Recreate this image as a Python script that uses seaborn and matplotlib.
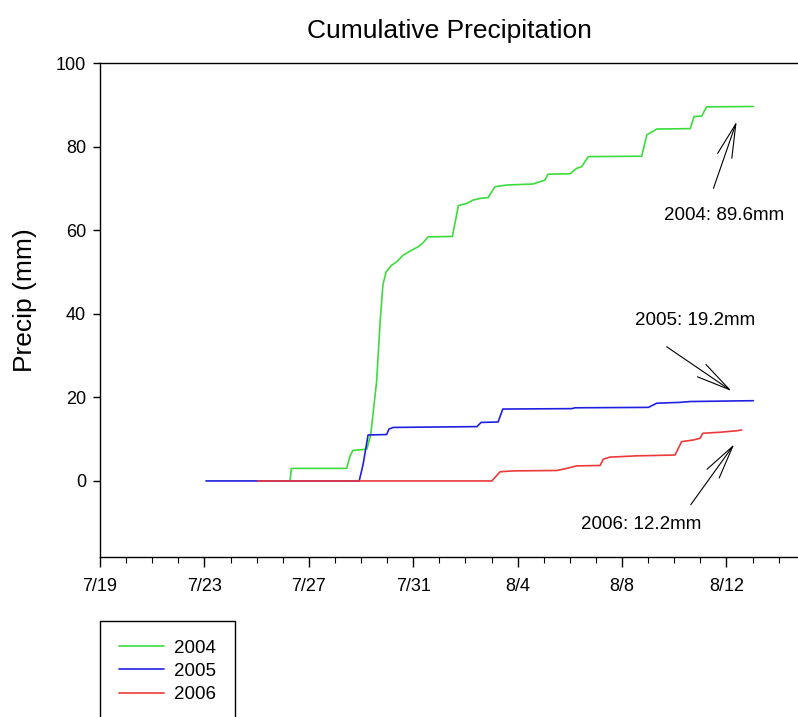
import numpy as np
import pandas as pd
import matplotlib
matplotlib.use("Agg")
import matplotlib.pyplot as plt
import matplotlib.ticker as mticker
import matplotlib.dates as mdates
import seaborn as sns
from matplotlib.lines import Line2D

# ---- data (x = days since July 19, y = cumulative precipitation in mm) ----
days_2004 = [6.9, 7.28, 7.33, 9.45, 9.58, 9.69, 10.22, 10.37, 10.60, 10.73, 10.84, 10.96,
             11.15, 11.38, 11.61, 11.88, 12.18, 12.38, 12.57, 13.50, 13.73, 14.05, 14.29,
             14.56, 14.87, 15.13, 15.58, 16.59, 17.05, 17.16, 18.01, 18.26, 18.45, 18.71,
             20.75, 20.95, 21.33, 22.61, 22.76, 23.05, 23.24, 25.03]
precip_2004 = [0, 0, 3.0, 3.0, 6.0, 7.3, 7.6, 11, 24, 38, 47, 50,
               51.5, 52.5, 54, 55, 56, 57, 58.4, 58.5, 65.9, 66.4, 67.2,
               67.6, 67.8, 70.4, 70.8, 71.05, 72, 73.4, 73.5, 74.8, 75.2, 77.6,
               77.7, 82.8, 84.2, 84.3, 87.2, 87.3, 89.5, 89.6]

days_2005 = [4.06, 9.93, 10.08, 10.27, 10.98, 11.07, 11.23, 14.44, 14.60, 15.25, 15.43,
             18.07, 18.20, 21.01, 21.33, 22.22, 22.61, 25.03]
precip_2005 = [0, 0, 4, 11, 11.1, 12.4, 12.8, 13.0, 14.0, 14.1, 17.2,
               17.3, 17.5, 17.6, 18.6, 18.8, 19.0, 19.2]

days_2006 = [6.05, 15.01, 15.33, 15.83, 17.50, 17.88, 18.26, 19.16, 19.28, 19.54, 20.56,
             22.03, 22.28, 22.73, 22.99, 23.09, 23.75, 24.39, 24.58]
precip_2006 = [0, 0, 2.2, 2.4, 2.5, 3.0, 3.6, 3.7, 5.2, 5.7, 6.0,
               6.2, 9.4, 9.8, 10.2, 11.4, 11.65, 12.0, 12.2]

years = ["2004", "2005", "2006"]
colors = ["#3cdc3c", "#2020e0", "#ec3a3a"]
totals = ["2004: 89.6mm", "2005: 19.2mm", "2006: 12.2mm"]
ytick_vals = [0, 20, 40, 60, 80, 100]

start = pd.Timestamp("2004-07-19")
frames = []
for yr, d, p in zip(years, [days_2004, days_2005, days_2006],
                    [precip_2004, precip_2005, precip_2006]):
    frames.append(pd.DataFrame({
        "date": start + pd.to_timedelta(np.array(d), unit="D"),
        "precip": p,
        "year": yr,
    }))
df = pd.concat(frames, ignore_index=True)

sns.set_theme(style="ticks")
plt.rcParams["font.family"] = ["Liberation Sans", "DejaVu Sans"]
plt.rcParams["text.color"] = "black"
plt.rcParams["axes.labelcolor"] = "black"
plt.rcParams["xtick.color"] = "black"
plt.rcParams["ytick.color"] = "black"

fig = plt.figure(figsize=(7.98, 7.17), dpi=100)
ax = fig.add_axes([100/798, 1-557/717, 698/798, (557-63)/717])

sns.lineplot(data=df, x="date", y="precip", hue="year",
             palette=dict(zip(years, colors)), estimator=None, sort=False,
             linewidth=1.2, ax=ax, legend=False)

# axes limits and ticks
ax.set_xlim(start, start + pd.Timedelta(days=26.74))
ax.set_ylim(-18.2, 100)
ax.set_yticks(ytick_vals)
ax.xaxis.set_major_locator(mdates.DayLocator(bymonthday=[19, 23, 27, 31, 4, 8, 12, 16]))
ax.xaxis.set_minor_locator(mdates.DayLocator())
ax.xaxis.set_major_formatter(mticker.FuncFormatter(
    lambda v, pos: f"{mdates.num2date(v).month}/{mdates.num2date(v).day}"))

for s in ["left", "top", "bottom"]:
    ax.spines[s].set_visible(True)
    ax.spines[s].set_color("black")
    ax.spines[s].set_linewidth(1.0)
ax.spines["right"].set_visible(False)

ax.tick_params(axis="y", which="major", direction="out", length=5, width=1,
               labelsize=13, pad=5, colors="black", left=True)
ax.tick_params(axis="x", which="major", direction="out", length=7, width=1,
               labelsize=13, pad=8, colors="black", bottom=True)
ax.tick_params(axis="x", which="minor", direction="out", length=4, width=0.8,
               colors="black", bottom=True)

ax.set_xlabel("")
ax.set_ylabel("Precip (mm)", fontsize=19, color="black")
ax.yaxis.set_label_coords(-0.09, 0.52)
ax.set_title("Cumulative Precipitation", fontsize=19, pad=18, color="black")

# annotations
def dd(x):
    return start + pd.Timedelta(days=x)

ann = [
    (totals[0], (23.9, 63.6), (23.5, 70.0), (24.39, 86.0)),
    (totals[1], (22.8, 38.5), (21.71, 32.1), (24.2, 21.5)),
    (totals[2], (20.75, -10.5), (22.63, -5.7), (24.3, 8.8)),
]
for txt, tpos, tail, tip in ann:
    ax.text(dd(tpos[0]), tpos[1], txt, fontsize=13.5, ha="center", va="center",
            color="black")
    ax.annotate("", xy=(dd(tip[0]), tip[1]), xytext=(dd(tail[0]), tail[1]),
                arrowprops=dict(arrowstyle="->,head_length=1.8,head_width=0.4",
                                color="black", lw=0.8, shrinkA=0, shrinkB=0,
                                mutation_scale=13.5))

# legend
handles = [Line2D([], [], color=c, lw=1.2) for c in colors]
leg = fig.legend(handles, years, loc="upper left",
                 bbox_to_anchor=(100/798, 1-621/717), bbox_transform=fig.transFigure,
                 borderaxespad=0, fontsize=13.5, handlelength=2.4, handletextpad=0.55,
                 borderpad=1.0, labelspacing=0.32, fancybox=False, framealpha=1,
                 edgecolor="black")
leg.get_frame().set_linewidth(1.0)
for t in leg.get_texts():
    t.set_color("black")

fig.savefig("out.png", dpi=100)
